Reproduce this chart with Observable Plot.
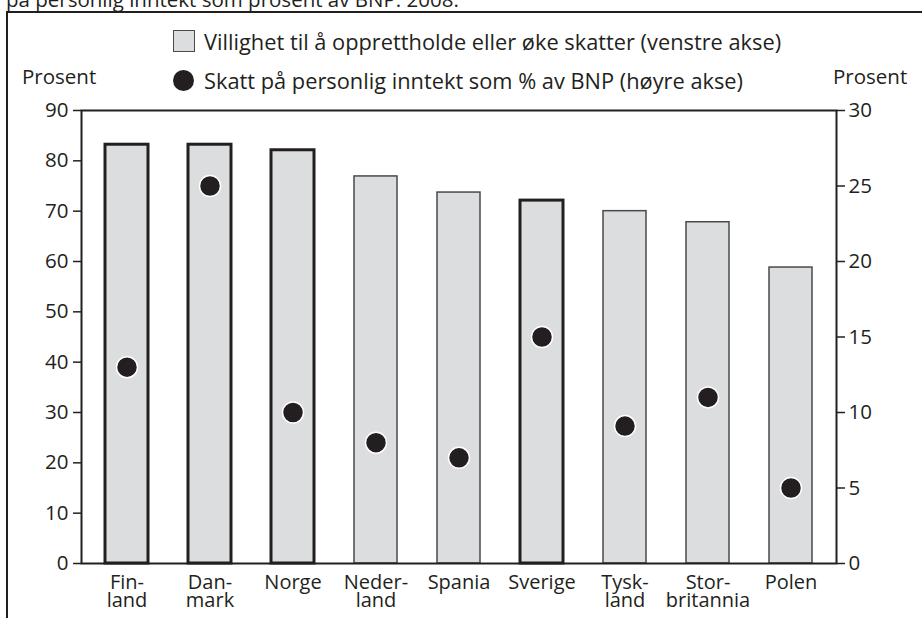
<!DOCTYPE html>
<html><head><meta charset="utf-8">
<script src="https://cdn.jsdelivr.net/npm/d3@7"></script>
<script src="https://cdn.jsdelivr.net/npm/@observablehq/plot@0.6"></script>
<style>
body{margin:0;background:#fff;font-family:"Open Sans",sans-serif;color:#231f20;}
#wrap{position:relative;width:922px;height:618px;overflow:hidden;}
.t{position:absolute;font-size:20.5px;white-space:nowrap;line-height:22px;}
#frameTop{position:absolute;left:6px;top:11px;width:916px;height:2px;background:#231f20;}
#frameLeft{position:absolute;left:6px;top:11px;width:2px;height:607px;background:#231f20;}
#sq{position:absolute;left:173px;top:30px;width:20px;height:20px;background:#dcdddf;border:1.5px solid #4a4a4a;}
#ci{position:absolute;left:173px;top:70px;width:21px;height:21px;border-radius:50%;background:#231f20;}
svg{position:absolute;left:0;top:0;}
</style></head>
<body><div id="wrap">
<div class="t" style="left:6px;top:-12px;">på personlig inntekt som prosent av BNP. 2008.</div>
<div id="frameTop"></div><div id="frameLeft"></div>
<div id="sq"></div><div id="ci"></div>
<div class="t" id="leg1" style="left:204px;top:31px;font-size:21.8px;">Villighet til å opprettholde eller øke skatter (venstre akse)</div>
<div class="t" id="leg2" style="left:204px;top:70px;font-size:21.8px;">Skatt på personlig inntekt som % av BNP (høyre akse)</div>
<div class="t" style="left:22px;top:65px;">Prosent</div>
<div class="t" style="left:833px;top:65px;">Prosent</div>
</div>
<script>
const countries = ["Finland","Danmark","Norge","Nederland","Spania","Sverige","Tyskland","Storbritannia","Polen"];
const labels = ["Fin-\nland","Dan-\nmark","Norge","Neder-\nland","Spania","Sverige","Tysk-\nland","Stor-\nbritannia","Polen"];
const willingness = [83.2, 83.2, 82.1, 76.9, 73.7, 72.1, 70.0, 67.8, 58.8];
const taxShare = [13.0, 25.0, 10.0, 8.0, 7.0, 15.0, 9.1, 11.0, 5.0];
const nordic = ["Finland","Danmark","Norge","Sverige"];
const leftTicks = [0,10,20,30,40,50,60,70,80,90];
const rightTicks = [0,5,10,15,20,25,30];
const ratio = 90/30;

const data = countries.map((c,i)=>({country:c, label:labels[i], will:willingness[i], tax:taxShare[i]}));
const labelOf = Object.fromEntries(countries.map((c,i)=>[c,labels[i]]));

const chart = Plot.plot({
  width: 922, height: 618,
  marginLeft: 81, marginRight: 86, marginTop: 110, marginBottom: 55,
  style: {fontFamily: '"Open Sans", sans-serif', fontSize: "20.5px", color: "#231f20", background: "transparent"},
  x: {domain: countries, paddingInner: 0.48, paddingOuter: 0.24, label: null},
  y: {domain: [0, 90], label: null},
  marks: [
    Plot.barY(data.filter(d=>!nordic.includes(d.country)), {x:"country", y:"will", fill:"#dcdddf", stroke:"#4a4a4a", strokeWidth:1.5}),
    Plot.barY(data.filter(d=>nordic.includes(d.country)), {x:"country", y:"will", fill:"#dcdddf", stroke:"#231f20", strokeWidth:3}),
    Plot.dot(data, {x:"country", y:d=>d.tax*ratio, r:10.5, fill:"#231f20", stroke:"#fff", strokeWidth:1.5}),
    Plot.frame({stroke:"#231f20", strokeWidth:2}),
    Plot.axisY(leftTicks, {anchor:"left", tickSize:8, tickPadding:5, stroke:"#231f20", strokeWidth:1.5, label:null, fontSize:20.5}),
    Plot.axisY(rightTicks.map(d=>d*ratio), {anchor:"right", tickSize:8, tickPadding:4, tickFormat:d=>d/ratio, stroke:"#231f20", strokeWidth:1.5, label:null, fontSize:20.5}),
    Plot.axisX({anchor:"bottom", tickSize:0, tickPadding:12, tickFormat:d=>labelOf[d], label:null, fontSize:20, lineHeight:0.92})
  ]
});
document.getElementById("wrap").insertBefore(chart, document.getElementById("wrap").firstChild);
</script>
</body></html>
